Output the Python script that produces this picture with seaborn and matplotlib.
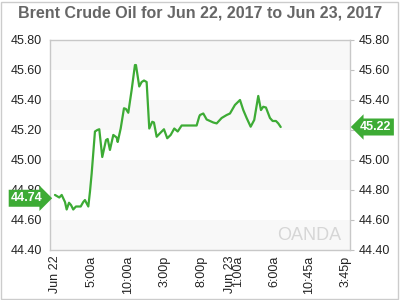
import matplotlib
matplotlib.use("Agg")
import matplotlib.pyplot as plt
import seaborn as sns
import pandas as pd
from matplotlib.patches import Rectangle

# ---- data (hours since Jun 22 00:00, price) ----
hours = [0.0, 0.59, 0.92, 1.37, 1.6, 1.92, 2.19, 2.5, 2.87, 3.19, 3.52, 3.87, 4.1, 4.56,
         4.79, 5.02, 5.47, 5.79, 6.06, 6.47, 6.98, 7.21, 7.52, 7.98, 8.44, 8.58, 8.99,
         9.44, 9.71, 10.03, 10.49, 10.94, 11.08, 11.53, 11.86, 12.18, 12.54, 12.9, 13.31,
         13.54, 13.91, 14.36, 14.91, 15.36, 15.83, 16.32, 16.79, 17.33, 19.38, 19.74,
         19.84, 20.29, 20.75, 21.66, 22.12, 22.8, 23.49, 23.94, 24.62, 25.31, 25.76,
         26.22, 26.77, 27.26, 27.81, 28.18, 28.49, 28.86, 29.41, 29.78, 30.23, 30.55, 30.88]
prices = [44.767, 44.75, 44.767, 44.72, 44.67, 44.715, 44.70, 44.67, 44.69, 44.69, 44.69,
          44.72, 44.733, 44.69, 44.79, 44.91, 45.19, 45.20, 45.205, 45.02, 45.133, 45.14,
          45.067, 45.167, 45.15, 45.12, 45.21, 45.345, 45.34, 45.315, 45.467, 45.633,
          45.633, 45.49, 45.52, 45.53, 45.52, 45.21, 45.255, 45.25, 45.155, 45.178, 45.205,
          45.145, 45.167, 45.21, 45.19, 45.23, 45.23, 45.29, 45.30, 45.31, 45.27, 45.25,
          45.244, 45.28, 45.30, 45.31, 45.367, 45.40, 45.333, 45.28, 45.222, 45.267,
          45.427, 45.333, 45.355, 45.35, 45.28, 45.26, 45.26, 45.244, 45.22]

tick_hours = [0, 5, 10, 15, 20, 24, 25, 30, 34.75, 39.75]
tick_labels = ["Jun 22", "5:00a", "10:00a", "3:00p", "8:00p", "Jun 23", "1:00a",
               "6:00a", "10:45a", "3:45p"]
y_ticks = [44.40, 44.60, 44.80, 45.00, 45.20, 45.40, 45.60, 45.80]
open_label = "44.74"
last_label = "45.22"
title = "Brent Crude Oil for Jun 22, 2017 to Jun 23, 2017"

sns.set_style("white")
plt.rcParams['font.family'] = ['Liberation Sans', 'DejaVu Sans']

df = pd.DataFrame({"h": hours, "p": prices})

fig = plt.figure(figsize=(4, 3), dpi=100)
ax = fig.add_axes([0.125, 1 - 250 / 300, 0.75, 210 / 300])

# alternating bands
for lo in [44.40, 44.80, 45.20, 45.60]:
    ax.axhspan(lo, lo + 0.2, color="#f8f8f8", zorder=0, lw=0)

sns.lineplot(data=df, x="h", y="p", ax=ax, color="#3dab35", lw=1.6, zorder=3)

ax.set_xlim(-0.68, 40.36)
ax.set_ylim(44.40, 45.80)
ax.set_xlabel("")
ax.set_ylabel("")
ax.set_xticks(tick_hours)
ax.set_xticklabels(tick_labels, rotation=90, fontsize=9, color="#222222")
ax.set_yticks(y_ticks)
ax.set_yticklabels([f"{v:.2f}" for v in y_ticks], fontsize=9, color="#222222")
ax.tick_params(axis="x", direction="in", length=3, color="#c0c0c0", pad=4)
ax.tick_params(axis="y", left=False, right=True, labelright=True, labelleft=True,
               direction="out", length=3, color="#c0c0c0", pad=3)
for s in ax.spines.values():
    s.set_color("#c8c8c8")
    s.set_linewidth(1)

# badges
ax.annotate(open_label, xy=(0.0, 44.745), xycoords=("axes fraction", "data"),
            xytext=(-16.5, 0), textcoords="offset points", ha="center", va="center",
            fontsize=9, fontweight="bold", color="white", zorder=10,
            bbox=dict(boxstyle="rarrow,pad=0.2", fc="#3dab35", ec="none"),
            annotation_clip=False)
ax.annotate(last_label, xy=(1.0, 45.22), xycoords=("axes fraction", "data"),
            xytext=(18.5, 0), textcoords="offset points", ha="center", va="center",
            fontsize=9, fontweight="bold", color="white", zorder=10,
            bbox=dict(boxstyle="larrow,pad=0.2", fc="#3dab35", ec="none"),
            annotation_clip=False)

# watermark
ax.text(0.97, 0.07, "OANDA", transform=ax.transAxes, ha="right", va="center",
        fontsize=13, color="#d6d6d6", zorder=1)

fig.text(0.5, 0.955, title, ha="center", va="center", fontsize=11.5,
         fontweight="bold", color="#666666")

fig.patches.append(Rectangle((0.002, 0.005), 0.993, 0.99, transform=fig.transFigure,
                             fill=False, ec="#cccccc", lw=1))

fig.savefig("out.png", dpi=100)
